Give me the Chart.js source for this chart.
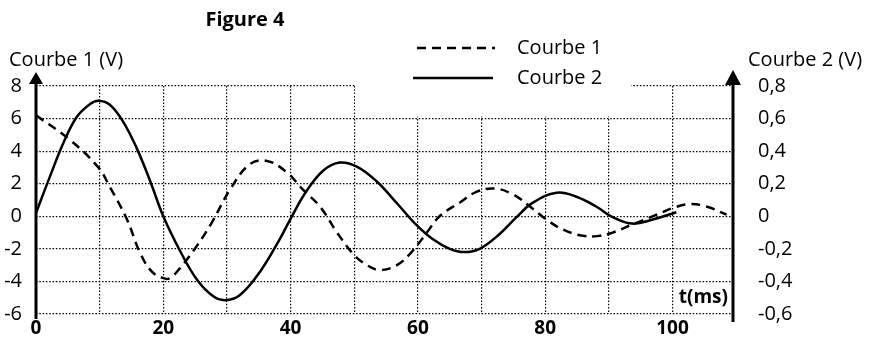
<!DOCTYPE html>
<html>
<head>
<meta charset="utf-8">
<script src="https://cdn.jsdelivr.net/npm/chart.js@4.4.1/dist/chart.umd.min.js"></script>
<style>
    html, body { margin: 0; padding: 0; background: #ffffff; }
    #wrap { width: 869px; height: 343px; }
</style>
</head>
<body>
<div id="wrap"><canvas id="fig4" width="869" height="343"></canvas></div>
<script>
// Courbe 1 (left axis, V)
const c1Time = [0, 5.3, 9.8, 11.6, 14.3, 16.3, 18.2, 20, 21, 22.6, 25.3, 27.6, 30.5, 33.6, 36.3, 39.4, 41.9, 44.6, 47.3, 49.8, 52, 54, 56.7, 59, 61.4, 63.4, 66.6, 69.2, 72.1, 74.9, 77.6, 80.2, 82.7, 85.9, 88.5, 90.6, 93.7, 97.5, 100, 102.7, 105.3, 108.5];
const c1Volts = [6.2, 4.7, 3.0, 1.8, -0.2, -2.2, -3.4, -3.8, -3.8, -3.2, -1.8, -0.4, 1.65, 3.2, 3.4, 2.7, 1.65, 0.6, -1.0, -2.3, -3.0, -3.3, -3.0, -2.2, -1.0, 0, 0.85, 1.5, 1.7, 1.35, 0.6, -0.2, -0.8, -1.2, -1.2, -1.0, -0.5, 0.1, 0.5, 0.75, 0.6, 0.1];

// Courbe 2 (right axis, V)
const c2Time = [0, 2.2, 4.3, 6.4, 8.5, 9.8, 11.6, 13.7, 15.8, 17.9, 20, 22.6, 25.3, 27.8, 29.7, 32, 35.2, 38.3, 40.2, 42.5, 45.1, 47.7, 50.4, 53.5, 56.7, 59.8, 62.3, 65, 67.3, 69.7, 72.8, 75.5, 78, 81.8, 84.9, 88, 90.6, 93.7, 96.9, 100.6];
const c2Volts = [0.02, 0.245, 0.45, 0.61, 0.69, 0.71, 0.685, 0.58, 0.42, 0.22, 0, -0.21, -0.39, -0.49, -0.515, -0.485, -0.34, -0.14, 0, 0.155, 0.28, 0.33, 0.305, 0.215, 0.08, -0.055, -0.14, -0.2, -0.22, -0.2, -0.11, -0.005, 0.082, 0.145, 0.12, 0.06, -0.005, -0.045, -0.02, 0.025];

const xTicks = [0, 10, 20, 30, 40, 50, 60, 70, 80, 90, 100];
const xLabels = ['0', '', '20', '', '40', '', '60', '', '80', '', '100'];

const FONT = '"Open Sans", sans-serif';

function toPoints(xs, ys) {
    return xs.map((x, i) => ({ x: x, y: ys[i] }));
}

function commaNum(v) {
    const r = Math.round(v * 10) / 10;
    return r === 0 ? '0' : String(r).replace('.', ',');
}

// axes with arrows, legend box, titles
const decorPlugin = {
    id: 'decor',
    beforeDatasetsDraw(chart) {
        const { ctx, scales } = chart;
        const x = scales.x, y = scales.y;
        // legend sits over the top row of the grid
        ctx.save();
        ctx.fillStyle = '#ffffff';
        ctx.fillRect(x.getPixelForValue(50) + 1, y.top - 3, x.getPixelForValue(93.5) - x.getPixelForValue(50) - 1, y.getPixelForValue(6) - y.top + 1);
        ctx.restore();
    },
    afterDraw(chart) {
        const { ctx, scales } = chart;
        const x = scales.x, y = scales.y;
        const left = x.getPixelForValue(0);
        const right = x.right;

        ctx.save();
        ctx.strokeStyle = '#000';
        ctx.fillStyle = '#000';
        ctx.lineWidth = 3;

        ctx.beginPath();
        ctx.moveTo(left, y.top - 4);
        ctx.lineTo(left, y.bottom + 5);
        ctx.stroke();
        ctx.beginPath();
        ctx.moveTo(left, y.top - 14);
        ctx.lineTo(left - 7, y.top - 2);
        ctx.lineTo(left + 7, y.top - 2);
        ctx.closePath();
        ctx.fill();

        ctx.beginPath();
        ctx.moveTo(right, y.top - 4);
        ctx.lineTo(right, y.bottom + 8);
        ctx.stroke();
        ctx.beginPath();
        ctx.moveTo(right, y.top - 16);
        ctx.lineTo(right - 8, y.top - 1);
        ctx.lineTo(right + 8, y.top - 1);
        ctx.closePath();
        ctx.fill();

        // legend
        ctx.lineWidth = 2.5;
        ctx.setLineDash([9, 6]);
        ctx.beginPath();
        ctx.moveTo(417, 48);
        ctx.lineTo(495, 48);
        ctx.stroke();
        ctx.setLineDash([]);
        ctx.beginPath();
        ctx.moveTo(413, 78);
        ctx.lineTo(493, 78);
        ctx.stroke();

        ctx.textBaseline = 'middle';
        ctx.textAlign = 'left';
        ctx.font = '20px ' + FONT;
        ctx.fillText('Courbe 1', 517, 48);
        ctx.fillText('Courbe 2', 517, 78);
        ctx.fillText('Courbe 1 (V)', 9, 60);
        ctx.fillText('Courbe 2 (V)', 748, 60);

        ctx.font = 'bold 20px ' + FONT;
        ctx.textAlign = 'center';
        ctx.fillText('Figure 4', 245, 20);

        ctx.font = 'bold 19px ' + FONT;
        ctx.textAlign = 'right';
        ctx.fillText('t(ms)', 728, 298);
        ctx.restore();
    }
};

const ctx = document.getElementById('fig4').getContext('2d');
new Chart(ctx, {
    type: 'line',
    data: {
        datasets: [
            {
                label: 'Courbe 1',
                data: toPoints(c1Time, c1Volts),
                yAxisID: 'y',
                borderColor: '#000',
                borderWidth: 2.5,
                borderDash: [9, 6],
                pointRadius: 0,
                tension: 0.4,
                fill: false
            },
            {
                label: 'Courbe 2',
                data: toPoints(c2Time, c2Volts),
                yAxisID: 'y2',
                borderColor: '#000',
                borderWidth: 2.5,
                pointRadius: 0,
                tension: 0.4,
                fill: false
            }
        ]
    },
    options: {
        responsive: false,
        animation: false,
        events: [],
        layout: { padding: { top: 86, left: 0, right: 0, bottom: 0 } },
        plugins: {
            legend: { display: false },
            title: { display: false },
            tooltip: { enabled: false }
        },
        scales: {
            x: {
                type: 'linear',
                min: 0,
                max: 109.5,
                afterBuildTicks: (scale) => { scale.ticks = xTicks.map(v => ({ value: v })); },
                afterFit: (scale) => { scale.height = 28; },
                ticks: {
                    autoSkip: false,
                    maxRotation: 0,
                    padding: 3,
                    color: '#000',
                    font: { family: FONT, size: 19, weight: 'bold' },
                    callback: (v) => xLabels[xTicks.indexOf(v)]
                },
                grid: { color: '#000', lineWidth: 1.2, drawTicks: false },
                border: { display: false, dash: [1.5, 1.8] }
            },
            y: {
                position: 'left',
                min: -6,
                max: 8,
                afterFit: (scale) => { scale.width = 36; },
                ticks: {
                    stepSize: 2,
                    padding: 14,
                    color: '#000',
                    font: { family: FONT, size: 20 }
                },
                grid: { color: '#000', lineWidth: 1.2, drawTicks: false },
                border: { display: false, dash: [1.5, 1.8] }
            },
            y2: {
                position: 'right',
                min: -0.6,
                max: 0.8,
                afterFit: (scale) => { scale.width = 136; },
                ticks: {
                    stepSize: 0.2,
                    padding: 17,
                    color: '#000',
                    font: { family: FONT, size: 20 },
                    callback: (v) => commaNum(v)
                },
                grid: { display: false },
                border: { display: false }
            }
        }
    },
    plugins: [decorPlugin]
});
</script>
</body>
</html>
